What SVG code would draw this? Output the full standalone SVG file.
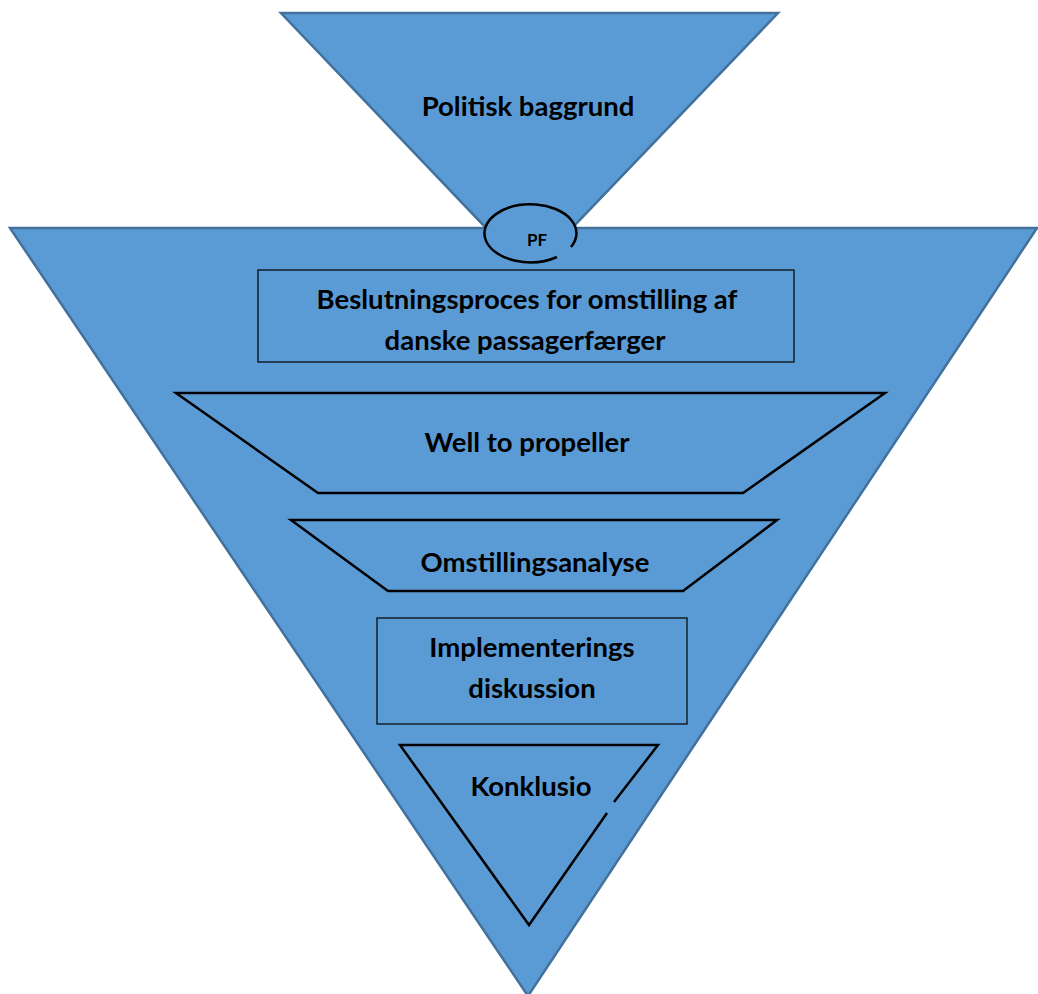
<svg xmlns="http://www.w3.org/2000/svg" width="1038" height="994" viewBox="0 0 1038 994">
<style>
.blue{fill:#5b9bd5;stroke:#41719c;stroke-width:2.5}
.box{fill:none;stroke:#000;stroke-width:2.5;stroke-linejoin:miter}
.t{font-family:Lato,"Liberation Sans",sans-serif;font-weight:bold;font-size:27.5px;fill:#000;text-anchor:middle}
</style>
<rect width="1038" height="994" fill="#fff"/>
<g id="politisk">
<polygon class="blue" points="281,13 778,13 529,273"/>
<text class="t" x="528" y="116">Politisk baggrund</text>
</g>
<g id="main">
<polygon class="blue" points="10,228 1037,228 528,996"/>
</g>
<g id="pf">
<ellipse cx="531" cy="230" rx="46" ry="29" fill="#5b9bd5"/>
<path d="M571,247 A46,29 0 1 0 557,257" fill="none" stroke="#000" stroke-width="2.5"/>
<text class="t" x="537" y="246" style="font-size:17px">PF</text>
</g>
<g id="beslutning">
<rect class="box" x="258" y="270" width="536" height="92" style="stroke-width:1.2"/>
<text class="t" x="527" y="309">Beslutningsproces for omstilling af</text>
<text class="t" x="525" y="350">danske passagerfærger</text>
</g>
<g id="well">
<polygon class="box" points="176,393 885,393 743,493 318,493"/>
<text class="t" x="527" y="452">Well to propeller</text>
</g>
<g id="omstilling">
<polygon class="box" points="291,520 777,520 683,591 388,591"/>
<text class="t" x="535" y="572">Omstillingsanalyse</text>
</g>
<g id="implementering">
<rect class="box" x="377" y="618" width="310" height="106" style="stroke-width:1.2"/>
<text class="t" x="532" y="657">Implementerings</text>
<text class="t" x="532" y="698">diskussion</text>
</g>
<g id="konklusio">
<polyline class="box" points="614,802 658,745 400,745 529,925 607,813"/>
<text class="t" x="531" y="796">Konklusio</text>
</g>
</svg>
